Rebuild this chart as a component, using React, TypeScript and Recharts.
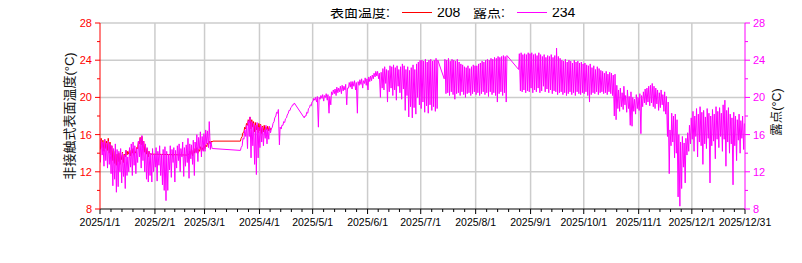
import React from 'react';
import { LineChart, Line, XAxis, YAxis, CartesianGrid } from 'recharts';

type Num = number | null;
const _ = null;

// ---- axis / label data ----
const monthStarts = [0, 31, 59, 90, 120, 151, 181, 212, 243, 273, 304, 334, 364];
const monthLabels = ['2025/1/1', '2025/2/1', '2025/3/1', '2025/4/1', '2025/5/1', '2025/6/1', '2025/7/1', '2025/8/1', '2025/9/1', '2025/10/1', '2025/11/1', '2025/12/1', '2025/12/31'];
const yMajorTicks = [8, 12, 16, 20, 24, 28];
const yMinorTicks = [10, 14, 18, 22, 26];
const gridYValues = [12, 16, 20, 24, 28];

const leftAxisTitle = '非接触式表面温度(°C)';
const rightAxisTitle = '露点(°C)';
const legendTempName = '表面温度:';
const legendTempCount = '208';
const legendDewName = '露点:';
const legendDewCount = '234';

// ---- 露点 (dew point): daily low / high, per month ----
const dewJanLo = [13.0, 13.8, 12.6, 13.2, 12.4, 12.8, 11.8, 10.5, 11.2, 9.8, 10.4, 12.0, 10.8, 11.5, 10.2, 11.6, 12.0, 12.5, 11.6, 12.7, 11.8, 13.0, 13.6, 12.4, 13.2, 12.0, 11.2, 10.9, 11.6, 10.9, 12.0];
const dewJanHi = [15.4, 15.2, 15.5, 15.1, 15.3, 15.0, 14.8, 14.5, 15.0, 14.4, 14.2, 14.5, 14.0, 13.8, 14.3, 13.6, 14.6, 15.0, 15.2, 14.8, 14.5, 15.3, 15.6, 15.9, 15.3, 15.0, 14.6, 14.2, 14.0, 14.5, 13.9];
const dewFebLo = [12.5, 11.0, 12.7, 11.6, 10.6, 10.0, 8.9, 10.0, 12.2, 11.4, 13.0, 10.9, 12.4, 13.2, 12.0, 13.6, 11.5, 12.6, 13.0, 11.3, 13.4, 12.8, 11.6, 14.0, 13.1, 14.5, 13.6, 14.2];
const dewFebHi = [14.6, 14.2, 14.8, 13.9, 14.4, 14.7, 14.2, 13.9, 14.8, 14.4, 14.6, 14.3, 14.8, 15.0, 14.5, 15.2, 14.6, 14.9, 15.6, 15.0, 14.9, 15.4, 15.2, 16.0, 15.7, 16.3, 15.8, 16.1];
const dewMarLo: Num[] = [14.2, 15.0, 14.6, 14.4, 14.5, _, _, _, _, _, _, _, _, _, _, _, _, _, _, _, 14.3, 14.8, 15.5, 15.8, 14.5, 15.8, 13.5, 14.8, 12.8, 11.7, 13.5];
const dewMarHi: Num[] = [16.5, 16.4, 17.4, 15.2, 14.5, _, _, _, _, _, _, _, _, _, _, _, _, _, _, _, 14.6, 15.6, 16.5, 17.0, 17.5, 17.9, 17.4, 17.2, 17.0, 17.3, 16.8];
const dewAprLo: Num[] = [14.6, 15.2, 14.8, 15.6, 15.0, 15.5, 16.2, 16.8, 17.4, 18.0, 18.3, 14.9, 16.6, 17.0, 17.3, 17.8, 18.3, 18.6, 19.0, 19.2, _, _, _, _, _, 17.8, 18.0, 18.3, 18.9, 19.1];
const dewAprHi: Num[] = [17.0, 16.8, 16.5, 17.0, 16.6, 16.9, 16.6, 17.2, 17.8, 18.4, 18.7, 16.8, 17.0, 17.4, 17.7, 18.1, 18.6, 18.9, 19.2, 19.4, _, _, _, _, _, 18.0, 18.4, 18.8, 19.2, 19.5];
const dewMayLo = [19.6, 19.7, 19.5, 16.8, 19.8, 19.9, 19.6, 20.0, 19.7, 18.3, 19.2, 20.3, 20.4, 20.2, 20.5, 20.6, 20.4, 20.7, 20.8, 19.2, 21.0, 21.1, 20.9, 21.2, 20.8, 18.3, 21.3, 21.4, 21.0, 21.5, 21.3];
const dewMayHi = [19.9, 20.0, 20.1, 20.0, 20.2, 20.3, 20.2, 20.4, 20.3, 20.1, 20.6, 20.8, 20.9, 21.1, 21.0, 21.2, 21.3, 21.2, 21.4, 21.0, 21.6, 21.7, 21.7, 21.8, 21.6, 21.7, 21.9, 22.0, 21.8, 22.1, 22.0];
const dewJunLo = [20.8, 21.7, 21.8, 22.0, 22.2, 22.3, 22.0, 20.0, 21.0, 20.8, 21.5, 19.5, 20.6, 21.0, 20.2, 20.8, 19.7, 21.2, 20.5, 19.8, 20.9, 18.6, 20.2, 17.9, 19.0, 17.8, 18.9, 18.2, 20.0, 19.2];
const dewJunHi = [22.2, 22.3, 22.4, 22.6, 22.8, 22.8, 22.6, 22.7, 23.1, 23.3, 23.0, 22.9, 23.4, 23.3, 23.5, 23.2, 23.4, 23.0, 23.3, 23.6, 23.4, 23.0, 23.3, 22.9, 23.2, 23.5, 23.0, 23.6, 23.8, 24.0];
const dewJulLo: Num[] = [18.8, 19.5, 18.4, 19.1, 18.3, 19.2, 18.6, 19.0, 18.5, 18.8, _, _, _, 22.0, 20.4, 20.5, 20.2, 20.6, 20.3, 19.8, 20.4, 20.5, 20.2, 20.6, 20.3, 20.0, 20.4, 20.5, 20.2, 20.4, 20.6];
const dewJulHi: Num[] = [24.0, 23.9, 24.1, 23.8, 24.0, 24.1, 23.9, 24.0, 24.2, 24.0, _, _, _, 24.1, 24.0, 24.2, 23.9, 24.1, 24.0, 23.9, 24.1, 23.8, 23.6, 23.5, 23.3, 23.2, 23.4, 23.1, 23.3, 23.5, 23.4];
const dewAugLo: Num[] = [20.3, 20.5, 20.2, 20.4, 20.6, 20.3, 20.5, 20.1, 20.6, 20.3, 20.5, 20.2, 19.5, 20.4, 20.6, 20.2, 20.5, 19.5, _, _, _, _, _, _, 23.0, 20.7, 20.6, 20.8, 20.5, 20.7, 20.6];
const dewAugHi: Num[] = [23.4, 23.6, 23.7, 23.9, 23.8, 24.0, 24.1, 24.0, 24.2, 24.1, 24.3, 24.2, 24.4, 24.3, 24.4, 24.5, 24.4, 24.5, _, _, _, _, _, _, 24.7, 24.8, 24.6, 24.7, 24.6, 24.8, 24.7];
const dewSepLo = [21.0, 20.5, 20.8, 20.6, 21.0, 20.5, 20.7, 21.2, 20.6, 20.9, 20.5, 20.8, 20.4, 20.7, 20.6, 20.3, 20.5, 20.6, 20.3, 20.5, 20.2, 20.4, 20.6, 20.3, 20.5, 20.2, 20.6, 20.4, 20.3, 20.5];
const dewSepHi = [24.8, 24.6, 24.7, 24.5, 24.8, 24.6, 24.4, 24.6, 24.3, 24.5, 24.4, 24.6, 24.3, 24.5, 25.3, 24.4, 24.2, 24.0, 23.9, 24.1, 23.8, 24.0, 23.9, 23.7, 24.0, 23.8, 23.9, 23.7, 23.8, 23.6];
const dewOctLo = [20.4, 20.6, 20.2, 19.5, 20.3, 20.5, 20.4, 20.6, 20.3, 20.5, 20.6, 20.4, 20.5, 20.3, 20.6, 20.4, 20.2, 18.0, 17.6, 18.8, 18.5, 19.0, 18.7, 19.2, 18.4, 18.8, 17.0, 16.9, 18.5, 18.2, 18.8];
const dewOctHi = [23.7, 23.5, 23.4, 23.6, 23.2, 23.4, 23.0, 23.3, 23.1, 22.9, 22.8, 22.6, 22.8, 22.5, 22.7, 22.6, 22.4, 22.5, 21.3, 20.8, 21.0, 20.5, 21.2, 20.2, 20.8, 20.1, 20.6, 20.0, 19.8, 20.3, 20.0];
const dewNovLo = [18.6, 16.1, 19.0, 19.4, 19.2, 19.5, 19.1, 19.4, 19.0, 18.8, 19.3, 18.6, 18.9, 19.2, 18.5, 18.2, 15.8, 11.8, 14.8, 15.2, 13.5, 14.0, 9.3, 8.3, 10.2, 12.5, 10.8, 13.8, 14.2, 15.0];
const dewNovHi = [20.4, 20.2, 20.6, 20.9, 21.0, 21.2, 21.3, 21.5, 21.2, 21.0, 20.8, 20.5, 20.8, 20.3, 20.6, 20.1, 19.5, 16.5, 18.3, 18.0, 18.2, 17.6, 16.0, 15.2, 15.8, 15.1, 15.6, 16.2, 17.0, 17.8];
const dewDecLo = [15.5, 14.2, 15.8, 13.6, 15.2, 14.8, 12.8, 15.0, 14.5, 15.6, 10.8, 14.8, 15.3, 13.4, 15.5, 14.6, 15.8, 14.2, 15.5, 12.6, 15.2, 14.0, 15.0, 10.6, 14.8, 13.2, 15.4, 14.0, 15.6, 14.4];
const dewDecHi = [18.5, 18.0, 18.8, 18.2, 19.0, 18.4, 18.6, 17.9, 18.8, 18.3, 18.0, 18.7, 18.2, 19.0, 18.5, 18.9, 18.3, 19.2, 19.7, 18.6, 18.9, 18.2, 17.8, 18.4, 18.0, 17.6, 18.2, 17.5, 18.0, 17.2];

// ---- 表面温度 (surface temperature): daily low / high, three recorded spans ----
const tempJanLo = [14.4, 14.6, 14.2, 14.5, 14.3, 14.0, 13.8, 13.2, 12.9, 12.7, 13.1, 12.8, 13.3, 13.0, 13.6, 13.8, 13.9, 13.7, 14.0, 13.8, 14.0, 14.5, 15.0, 14.9, 14.6, 14.1, 13.9, 13.6, 13.9];
const tempJanHi = [15.6, 15.4, 15.5, 15.3, 15.6, 15.2, 14.8, 14.4, 14.2, 13.9, 14.0, 13.8, 14.1, 13.9, 14.3, 14.2, 14.4, 14.3, 14.5, 14.2, 14.6, 15.2, 15.7, 15.8, 15.3, 14.8, 14.5, 14.2, 13.9];
const tempFebMarLo = [13.8, 13.8, 13.9, 13.7, 14.0, 14.1, 14.0, 14.2, 14.3, 14.3, 14.5, 14.7, 14.9, 15.0, 15.2];
const tempFebMarHi = [13.9, 14.2, 14.4, 14.3, 14.5, 14.6, 14.4, 14.7, 14.6, 14.8, 14.9, 15.1, 15.3, 15.3, 15.3];
const tempMarAprLo = [15.3, 15.8, 16.3, 16.6, 17.0, 17.3, 16.6, 16.8, 16.3, 16.5, 16.2, 16.4, 16.1, 16.3, 16.2, 16.5, 16.4, 16.5];
const tempMarAprHi = [15.6, 16.2, 16.8, 17.2, 17.6, 17.9, 17.6, 17.4, 17.3, 17.0, 17.2, 17.1, 16.9, 17.0, 16.8, 16.9, 16.8, 16.7];
const tempSpanStarts = [0, 49, 79];

type Block = [number, Num[], Num[]];
function toPoints(blocks: Block[]) {
  const pts: { d: number; v: number }[] = [];
  blocks.forEach(([start, lo, hi]) => {
    lo.forEach((l, i) => {
      if (l != null) pts.push({ d: start + i + 0.25, v: l });
      const h = hi[i];
      if (h != null) pts.push({ d: start + i + 0.65, v: h });
    });
  });
  return pts;
}

const dewPoints = toPoints([
  [monthStarts[0], dewJanLo, dewJanHi],
  [monthStarts[1], dewFebLo, dewFebHi],
  [monthStarts[2], dewMarLo, dewMarHi],
  [monthStarts[3], dewAprLo, dewAprHi],
  [monthStarts[4], dewMayLo, dewMayHi],
  [monthStarts[5], dewJunLo, dewJunHi],
  [monthStarts[6], dewJulLo, dewJulHi],
  [monthStarts[7], dewAugLo, dewAugHi],
  [monthStarts[8], dewSepLo, dewSepHi],
  [monthStarts[9], dewOctLo, dewOctHi],
  [monthStarts[10], dewNovLo, dewNovHi],
  [monthStarts[11], dewDecLo, dewDecHi],
]);

const tempPoints = toPoints([
  [tempSpanStarts[0], tempJanLo, tempJanHi],
  [tempSpanStarts[1], tempFebMarLo, tempFebMarHi],
  [tempSpanStarts[2], tempMarAprLo, tempMarAprHi],
]);

// minor x ticks: 4 between each pair of month ticks
const xTicks: number[] = [];
for (let i = 0; i < monthStarts.length; i++) {
  xTicks.push(monthStarts[i]);
  if (i < monthStarts.length - 1) {
    const a = monthStarts[i];
    const b = monthStarts[i + 1];
    for (let k = 1; k < 5; k++) xTicks.push(a + ((b - a) * k) / 5);
  }
}
const yTicks = [...yMajorTicks, ...yMinorTicks].sort((a, b) => a - b);
const gridXValues = monthStarts.slice(1, -1);

const FONT = "'Liberation Sans', Arial, 'Noto Sans CJK SC', sans-serif";
const RED = '#ff0000';
const MAGENTA = '#ff00ff';

const XTick = (props: any) => {
  const { x, y, payload } = props;
  const idx = monthStarts.indexOf(payload.value);
  const major = idx >= 0;
  return (
    <g>
      <line x1={x} y1={y} x2={x} y2={y + (major ? 5 : 3)} stroke="#000" strokeWidth={1} />
      {major && (
        <text x={x} y={y + 16.5} textAnchor="middle" fontSize={10.5} fontFamily={FONT} fill="#000">
          {monthLabels[idx]}
        </text>
      )}
    </g>
  );
};

const makeYTick = (side: 'left' | 'right', color: string) => (props: any) => {
  const { x, y, payload } = props;
  const major = yMajorTicks.indexOf(payload.value) >= 0;
  const len = major ? 5 : 3;
  const s = side === 'left' ? -1 : 1;
  return (
    <g>
      <line x1={x} y1={y} x2={x + s * len} y2={y} stroke={color} strokeWidth={1} />
      {major && (
        <text x={x + s * 8} y={y} dy="0.36em" textAnchor={side === 'left' ? 'end' : 'start'} fontSize={11} fontFamily={FONT} fill={color}>
          {payload.value}
        </text>
      )}
    </g>
  );
};

const LeftTick = makeYTick('left', RED);
const RightTick = makeYTick('right', MAGENTA);

const textStyle: React.CSSProperties = {
  position: 'absolute',
  fontFamily: FONT,
  fontSize: 14,
  lineHeight: '18px',
  top: -5,
  whiteSpace: 'nowrap',
  color: '#000',
};

export default function App() {
  return (
    <div style={{ position: 'relative', width: 794, height: 255 }}>
      <LineChart width={794} height={255} margin={{ top: 15, right: 0, bottom: 24, left: 0 }}>
        <CartesianGrid stroke="#cccccc" strokeWidth={1.5} horizontalValues={gridYValues} verticalValues={gridXValues} />
        <XAxis
          type="number"
          dataKey="d"
          domain={[0, 364]}
          allowDataOverflow
          ticks={xTicks}
          interval={0}
          tick={XTick}
          tickLine={false}
          tickSize={0}
          tickMargin={0}
          axisLine={{ stroke: '#000', strokeWidth: 1 }}
          height={30}
        />
        <YAxis
          type="number"
          domain={[8, 28]}
          allowDataOverflow
          ticks={yTicks}
          interval={0}
          tick={LeftTick}
          tickLine={false}
          tickSize={0}
          tickMargin={0}
          axisLine={{ stroke: RED, strokeWidth: 1 }}
          width={92}
        />
        <YAxis
          yAxisId="right"
          orientation="right"
          type="number"
          domain={[8, 28]}
          allowDataOverflow
          ticks={yTicks}
          interval={0}
          tick={RightTick}
          tickLine={false}
          tickSize={0}
          tickMargin={0}
          axisLine={{ stroke: MAGENTA, strokeWidth: 1 }}
          width={57}
        />
        <Line data={tempPoints} dataKey="v" type="linear" stroke={RED} strokeWidth={1} dot={false} activeDot={false} isAnimationActive={false} />
        <Line data={dewPoints} yAxisId="right" dataKey="v" type="linear" stroke={MAGENTA} strokeWidth={1} dot={false} activeDot={false} isAnimationActive={false} />
      </LineChart>

      {/* legend */}
      <div style={{ ...textStyle, left: 322 }}>{legendTempName}</div>
      <div style={{ position: 'absolute', left: 394, top: 4, width: 30, height: 1, background: RED }} />
      <div style={{ ...textStyle, left: 429 }}>{legendTempCount}</div>
      <div style={{ ...textStyle, left: 465 }}>{legendDewName}</div>
      <div style={{ position: 'absolute', left: 509, top: 4, width: 30, height: 1, background: MAGENTA }} />
      <div style={{ ...textStyle, left: 544 }}>{legendDewCount}</div>

      {/* axis titles */}
      <svg width={794} height={255} style={{ position: 'absolute', left: 0, top: 0, pointerEvents: 'none' }}>
        <text
          x={61}
          y={108}
          transform="rotate(-90, 61, 108)"
          textAnchor="middle"
          dominantBaseline="central"
          fontFamily={FONT}
          fontSize={13}
          fill="#111"
        >
          {leftAxisTitle}
        </text>
        <text
          x={768.5}
          y={104}
          transform="rotate(-90, 768.5, 104)"
          textAnchor="middle"
          dominantBaseline="central"
          fontFamily={FONT}
          fontSize={12.5}
          fill="#111"
        >
          {rightAxisTitle}
        </text>
      </svg>
    </div>
  );
}
